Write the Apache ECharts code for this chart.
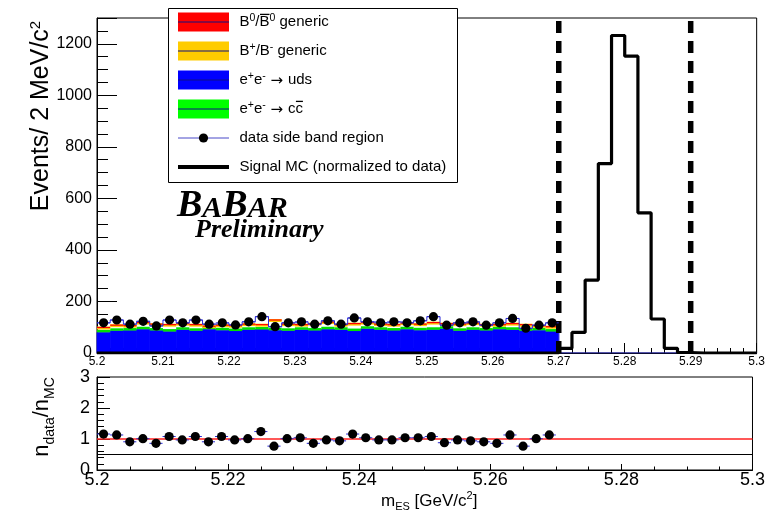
<!DOCTYPE html>
<html><head><meta charset="utf-8">
<script src="https://cdn.jsdelivr.net/npm/echarts@6/dist/echarts.min.js"></script>
<style>html,body{margin:0;padding:0;background:#fff}#c{width:768px;height:510px}</style>
</head><body><div id="c"></div>
<script>
// ---------------- data ----------------
const X_MIN = 5.2, X_MAX = 5.3, BIN_W = 0.002, N_BINS = 50;
const Y_MAX = 1300;
// data counts in the side band (bins 0..34), blinded bins are empty
const dataCounts = [117,128,112,123,105,128,117,128,112,117,109,121,141,102,117,121,112,125,112,136,121,117,121,117,125,141,108,117,121,108,117,134,96,108,117,
  0,0,0,0,0,0,0,0,0,0,0,0,0,0,0];
const N_SIDE = 35;
// cumulative MC stack levels per side-band bin
const udsTop = [80,86,88,92,88,83,90,86,92,88,86,90,92,88,86,90,88,92,90,86,94,90,88,92,88,90,94,86,90,88,92,90,86,88,84];
const ccTop  = [85,91,92,97,92,88,95,91,97,93,90,95,96,93,91,95,92,97,95,90,99,95,92,97,93,95,99,91,95,92,97,95,91,93,88];
const bpmTop = [97,106,104,116,110,108,112,108,102,106,104,110,108,126,110,108,112,118,108,112,116,110,108,114,110,116,112,110,114,108,108,112,108,104,100];
const b0Top  = [99,108,106,118,112,110,114,110,104,108,106,112,110,128,112,110,114,120,110,114,118,112,110,116,112,118,114,112,116,110,110,114,110,106,102];
// signal MC (normalized to data)
const signalMC = [0,0,0,0,0,0,0,0,0,0,0,0,0,0,0,0,0,0,0,0,0,0,0,0,0,0,0,0,0,0,0,0,0,0,0,
  18,80,283,735,1232,1152,544,132,18,2,0,0,0,0,0];
// ratio data / MC
const ratioValues = [1.16,1.13,0.91,1.01,0.86,1.08,0.97,1.08,0.91,1.08,0.97,1.01,1.24,0.77,1.01,1.04,0.86,0.97,0.94,1.16,1.04,0.97,0.97,1.04,1.04,1.08,0.88,0.97,0.94,0.91,0.86,1.13,0.77,1.01,1.13];
const cutLines = [5.27, 5.29];
const ratioRefLines = [1, 0.5];

// ---------------- helpers ----------------
const edge = i => Math.round((X_MIN + i * BIN_W) * 1e4) / 1e4;
const fmt = v => String(+(+v).toFixed(3));
const SANS = '"Liberation Sans", Arial, sans-serif';
const SERIF = '"Liberation Serif", "Times New Roman", serif';
const DEJAVU = '"DejaVu Sans", sans-serif';

function rectItem(color) {
  return (params, api) => {
    const a = api.coord([api.value(0), api.value(3)]);
    const b = api.coord([api.value(1), api.value(2)]);
    return {type:'rect', shape:{x:a[0], y:a[1], width:b[0]-a[0], height:b[1]-a[1]}, style:{fill:color, stroke:color, lineWidth:0.8}};
  };
}
function segItem(color, width) {
  return (params, api) => {
    const a = api.coord([api.value(0), api.value(2)]);
    const b = api.coord([api.value(1), api.value(2)]);
    return {type:'line', shape:{x1:a[0], y1:a[1], x2:b[0], y2:b[1]}, style:{stroke:color, lineWidth:width}};
  };
}
function pointItem(params, api) {
  const x0 = api.value(0), x1 = api.value(1), y = api.value(2);
  const a = api.coord([x0, y]), b = api.coord([x1, y]);
  return {type:'group', children:[
    {type:'line', shape:{x1:a[0], y1:a[1], x2:b[0], y2:b[1]}, style:{stroke:'#2a2ad6', lineWidth:1}},
    {type:'circle', shape:{cx:(a[0]+b[0])/2, cy:a[1], r:4.6}, style:{fill:'#000'}}
  ]};
}

const mctx = document.createElement('canvas').getContext('2d');
// pieces laid along a baseline at local y=0
function textRun(x, y, pieces, base, rotation, z) {
  let cx = 0; const kids = [];
  for (const p of pieces) {
    const size = p.size || base.size;
    const fam = p.family || base.family;
    const k = fam === SERIF ? 0.3375 : (fam === DEJAVU ? 0.3 : 0.3465);
    const font = `${base.style||'normal'} ${base.weight||'normal'} ${size}px ${fam}`;
    mctx.font = font;
    const w = mctx.measureText(p.t).width;
    kids.push({type:'text', x:cx, y:-k*size + (p.dy||0), z: z || 60,
      style:{text:p.t, font, fill:'#000', align:'left', verticalAlign:'middle', textAlign:'left', textVerticalAlign:'middle'}});
    if (p.over) {
      const oy = -base.size*0.86;
      kids.push({type:'line', z: z || 60, shape:{x1:cx+0.5, y1:oy, x2:cx+w, y2:oy}, style:{stroke:'#000', lineWidth:1.3}});
    }
    cx += w + (p.gap||0);
  }
  const g = {type:'group', x, y, z: z || 60, children:kids};
  if (rotation) {
    g.rotation = rotation;
    kids.forEach(c => { c.x = (c.x || 0) - cx/2; });
  }
  return g;
}

// ---------------- series ----------------
const sideIdx = Array.from({length:N_SIDE}, (_, i) => i);
const series = [
  {type:'custom', name:'uds', xAxisIndex:0, yAxisIndex:0, renderItem:rectItem('#0000ff'), encode:{x:[0,1], y:[2,3]},
    data: sideIdx.map(i => [edge(i), edge(i+1), 0, udsTop[i]]), z:2},
  {type:'custom', name:'cc', xAxisIndex:0, yAxisIndex:0, renderItem:segItem('#00e000', 2.5), encode:{x:[0,1], y:2},
    data: sideIdx.map(i => [edge(i), edge(i+1), ccTop[i]]), z:3},
  {type:'custom', name:'bpm', xAxisIndex:0, yAxisIndex:0, renderItem:segItem('#ffcc00', 3), encode:{x:[0,1], y:2},
    data: sideIdx.map(i => [edge(i), edge(i+1), bpmTop[i]]), z:3},
  {type:'custom', name:'b0', xAxisIndex:0, yAxisIndex:0, renderItem:segItem('#ff0000', 1.2), encode:{x:[0,1], y:2},
    data: sideIdx.map(i => [edge(i), edge(i+1), b0Top[i]]), z:3},
  {type:'line', name:'dataHist', xAxisIndex:0, yAxisIndex:0, step:'end', symbol:'none',
    lineStyle:{color:'#2a2ad6', width:1},
    data: dataCounts.map((v, i) => [edge(i), v]).concat([[X_MAX, dataCounts[N_BINS-1]]]), z:4},
  {type:'line', name:'signal', xAxisIndex:0, yAxisIndex:0, step:'end', symbol:'none',
    lineStyle:{color:'#000', width:3.2},
    data: signalMC.map((v, i) => [edge(i), v]).concat([[X_MAX, signalMC[N_BINS-1]]]), z:5},
  ...cutLines.map(c => ({type:'line', xAxisIndex:0, yAxisIndex:0, symbol:'none',
    lineStyle:{color:'#000', width:5.5, type:[12,8]}, data:[[c, 0], [c, Y_MAX - 12]], z:6})),
  {type:'custom', name:'dataPts', xAxisIndex:0, yAxisIndex:0, renderItem:pointItem, encode:{x:[0,1], y:2},
    data: sideIdx.map(i => [edge(i), edge(i+1), dataCounts[i]]), z:7},
  // ratio panel
  ...ratioRefLines.map((r, j) => ({type:'line', xAxisIndex:1, yAxisIndex:1, symbol:'none',
    lineStyle:{color: j === 0 ? '#ff2020' : '#000', width: j === 0 ? 1.4 : 1.2}, data:[[X_MIN, r], [X_MAX, r]], z:3})),
  {type:'custom', name:'ratioPts', xAxisIndex:1, yAxisIndex:1, renderItem:pointItem, encode:{x:[0,1], y:2},
    data: sideIdx.map(i => [edge(i), edge(i+1), ratioValues[i]]), z:7}
];

// ---------------- graphic (legend, titles, logo) ----------------
const legendY = [22, 51, 80, 109, 138, 167];
const legendFills = ['#ff0000', '#ffcc00', '#0000ff', '#00ff00'];
const L = {size:15, family:SANS};
const sup = t => ({t, size:10.5, dy:-5.5});
const sub = (t, s, d) => ({t, size:s, dy:d});
const arrow = {t:' \u2192 ', family:DEJAVU};
const legendTexts = [
  [{t:'B'}, sup('0'), {t:'/'}, {t:'B', over:true}, sup('0'), {t:' generic'}],
  [{t:'B'}, sup('+'), {t:'/B'}, sup('-'), {t:' generic'}],
  [{t:'e'}, sup('+'), {t:'e'}, sup('-'), arrow, {t:'uds'}],
  [{t:'e'}, sup('+'), {t:'e'}, sup('-'), arrow, {t:'c'}, {t:'c', over:true}],
  [{t:'data side band region'}],
  [{t:'Signal MC (normalized to data)'}]
];
const graphics = [
  {type:'rect', shape:{x:168.5, y:8.5, width:289, height:174}, style:{fill:'#fff', stroke:'#000', lineWidth:1}, z:50},
];
legendFills.forEach((f, i) => {
  graphics.push({type:'rect', shape:{x:178, y:legendY[i]-9.5, width:51, height:19}, style:{fill:f}, z:51});
  graphics.push({type:'line', shape:{x1:178, y1:legendY[i], x2:229, y2:legendY[i]}, style:{stroke:'#101080', lineWidth:1}, z:52});
});
graphics.push({type:'line', shape:{x1:178, y1:legendY[4], x2:229, y2:legendY[4]}, style:{stroke:'#4848c8', lineWidth:1}, z:52});
graphics.push({type:'circle', shape:{cx:203.5, cy:legendY[4], r:4.6}, style:{fill:'#000'}, z:53});
graphics.push({type:'line', shape:{x1:178, y1:legendY[5], x2:229, y2:legendY[5]}, style:{stroke:'#000', lineWidth:4}, z:52});
legendTexts.forEach((p, i) => graphics.push(textRun(239.5, legendY[i] + 5.3, p, L, 0, 60)));

// axis titles
graphics.push(textRun(50, 116, [{t:'Events/ 2 MeV/c'}, {t:'2', size:15, dy:-9}], {size:25, family:SANS}, Math.PI/2));
graphics.push(textRun(50, 417, [{t:'n'}, sub('data', 14, 5), {t:'/n'}, sub('MC', 14, 5)], {size:22, family:SANS}, Math.PI/2));
graphics.push(textRun(381, 507, [{t:'m'}, sub('ES', 11, 4), {t:' [GeV/c'}, {t:'2', size:11, dy:-7}, {t:']'}], {size:17, family:SANS}));
// BaBar logo
const BB = {size:38, family:SERIF, weight:'bold', style:'italic'};
graphics.push(textRun(177, 219, [{t:'B'}, {t:'A', size:30}, {t:'B'}, {t:'A', size:30}, {t:'R', size:30}], BB));
graphics.push(textRun(195, 239, [{t:'Preliminary'}], {size:26, family:SERIF, weight:'bold', style:'italic'}));

// ---------------- chart ----------------
const axisCommon = {type:'value', splitLine:{show:false},
  axisLine:{show:true, onZero:false, lineStyle:{color:'#000', width:1}},
  axisLabel:{color:'#000', fontFamily:SANS}};
const option = {
  animation:false,
  backgroundColor:'#fff',
  textStyle:{fontFamily:SANS},
  grid:[
    {left:97, top:18, width:660, height:335, show:true, borderColor:'#000', borderWidth:1, backgroundColor:'transparent'},
    {left:97, top:377, width:660, height:93, show:true, borderColor:'#000', borderWidth:1, backgroundColor:'transparent'}
  ],
  xAxis:[
    Object.assign({}, axisCommon, {gridIndex:0, min:X_MIN, max:X_MAX, interval:0.01,
      axisTick:{show:true, inside:true, length:10, lineStyle:{color:'#000'}},
      minorTick:{show:true, splitNumber:5, length:5, lineStyle:{color:'#000'}},
      axisLabel:{color:'#000', fontFamily:SANS, fontSize:12, margin:3, formatter:fmt, showMinLabel:true, showMaxLabel:true}}),
    Object.assign({}, axisCommon, {gridIndex:1, min:X_MIN, max:X_MAX, interval:0.02,
      axisTick:{show:true, inside:true, length:6, lineStyle:{color:'#000'}},
      minorTick:{show:true, splitNumber:4, length:3.5, lineStyle:{color:'#000'}},
      axisLabel:{color:'#000', fontFamily:SANS, fontSize:18, margin:1, formatter:fmt, showMinLabel:true, showMaxLabel:true}})
  ],
  yAxis:[
    Object.assign({}, axisCommon, {gridIndex:0, min:0, max:Y_MAX, interval:200,
      axisTick:{show:true, inside:true, length:20, lineStyle:{color:'#000'}},
      minorTick:{show:true, splitNumber:4, length:11, lineStyle:{color:'#000'}},
      axisLabel:{color:'#000', fontFamily:SANS, fontSize:16, margin:5, showMaxLabel:false, formatter:v => String(v)}}),
    Object.assign({}, axisCommon, {gridIndex:1, min:0, max:3, interval:1,
      axisTick:{show:true, inside:true, length:13, lineStyle:{color:'#000'}},
      minorTick:{show:true, splitNumber:5, length:7, lineStyle:{color:'#000'}},
      axisLabel:{color:'#000', fontFamily:SANS, fontSize:18, margin:7, formatter:v => String(v)}})
  ],
  series,
  graphic:{elements:graphics}
};
const chart = echarts.init(document.getElementById('c'));
chart.setOption(option);
</script>
</body></html>
